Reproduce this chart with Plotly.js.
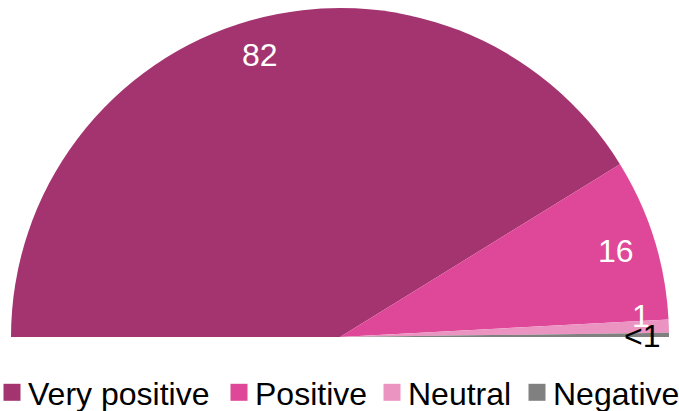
<!DOCTYPE html>
<html>
<head>
<meta charset="utf-8">
<script src="https://cdn.plot.ly/plotly-3.0.1.min.js"></script>
<style>
html,body{margin:0;padding:0;overflow:hidden;background:#fff;width:679px;height:411px;}
#chart{width:800px;height:700px;}
</style>
</head>
<body>
<div id="chart"></div>
<script>
// Data
const categories = ["Very positive", "Positive", "Neutral", "Negative"];
const values = [82.4, 15.9, 1.3, 0.4];
const valueLabels = ["82", "16", "1", "<1"];
const colors = ["#A3346F", "#DF4898", "#EB94C2", "#808080"];
const labelColors = ["#ffffff", "#ffffff", "#ffffff", "#000000"];

const W = 800, H = 700;
const CX = 340, CY = 337, R = 329;          // pie geometry in pixels
const total = values.reduce((a, b) => a + b, 0);

const trace = {
  type: "pie",
  labels: categories.concat([" "]),
  values: values.concat([total]),
  textinfo: "none",
  marker: {colors: colors.concat(["rgba(0,0,0,0)"]), line: {width: 0}},
  sort: false,
  direction: "clockwise",
  rotation: -90,
  hoverinfo: "none",
  showlegend: true,
  domain: {x: [(CX - R) / W, (CX + R) / W], y: [1 - (CY + R) / H, 1 - (CY - R) / H]}
};

// value labels placed at slice mid-angles (derived from the data)
const labelRadius = [0.89, 0.88, 0.9, 0.9];
const labelShift = [[0, 0], [0, 0], [5, -11], [6, 1]];
const annotations = [];
let cum = 0;
values.forEach(function (v, i) {
  const midFrac = (cum + v / 2) / total;
  cum += v;
  const theta = Math.PI * (1 - midFrac);
  const px = CX + labelRadius[i] * R * Math.cos(theta) + labelShift[i][0];
  const py = CY - labelRadius[i] * R * Math.sin(theta) + labelShift[i][1];
  annotations.push({
    xref: "paper", yref: "paper",
    x: px / W, y: 1 - py / H,
    xanchor: "center", yanchor: "middle",
    text: valueLabels[i], showarrow: false,
    font: {family: "Liberation Sans, Arial, sans-serif", size: 32, color: labelColors[i]}
  });
});

const layout = {
  width: W,
  height: H,
  margin: {l: 0, r: 0, t: 0, b: 0},
  paper_bgcolor: "#ffffff",
  showlegend: true,
  annotations: annotations,
  legend: {
    orientation: "h",
    x: 0, xanchor: "left",
    y: 1 - 365 / H, yanchor: "top",
    font: {family: "Liberation Sans, Arial, sans-serif", size: 32, color: "#000000"},
    itemclick: false, itemdoubleclick: false,
    traceorder: "normal"
  }
};

// legend text start positions (pixels) as laid out in the reference
const legendTextX = [28, 255, 408, 553];

Plotly.newPlot("chart", [trace], layout, {staticPlot: true, displayModeBar: false}).then(function () {
  document.querySelectorAll("#chart .legend .traces .legendpoints path").forEach(function (p) {
    p.setAttribute("d", "M8.5,8.5H-8.5V-8.5H8.5Z");
  });
  document.querySelectorAll("#chart .legend .traces .legendpoints").forEach(function (g) {
    g.setAttribute("transform", "translate(4,0)");
  });
  const items = document.querySelectorAll("#chart .legend .traces");
  items.forEach(function (g, i) {
    const tr = g.getAttribute("transform") || "";
    const m = tr.match(/translate\(\s*([-\d.]+)[ ,]+([-\d.]+)\s*\)/);
    const y = m ? parseFloat(m[2]) : 0;
    const x = i < legendTextX.length ? legendTextX[i] - 40 : 760;
    g.setAttribute("transform", "translate(" + x + "," + y + ")");
  });
});
</script>
</body>
</html>
